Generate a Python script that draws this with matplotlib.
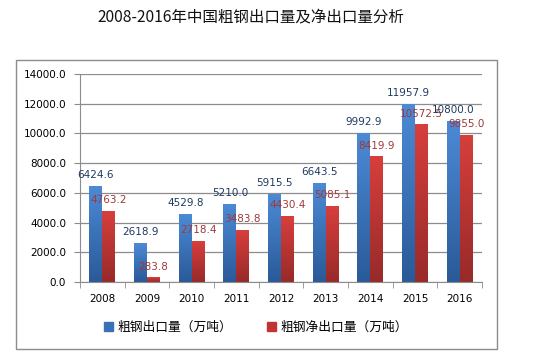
import matplotlib
matplotlib.use('Agg')
import matplotlib.pyplot as plt
import numpy as np
from matplotlib.colors import LinearSegmentedColormap
from matplotlib.patches import Rectangle

plt.rcParams['font.family'] = ['DejaVu Sans', 'Noto Sans CJK SC']

# data
years = ['2008', '2009', '2010', '2011', '2012', '2013', '2014', '2015', '2016']
export = [6424.6, 2618.9, 4529.8, 5210.0, 5915.5, 6643.5, 9992.9, 11957.9, 10800.0]
net_export = [4763.2, 283.8, 2718.4, 3483.8, 4430.4, 5085.1, 8419.9, 10572.5, 9855.0]
yticks = [0, 2000, 4000, 6000, 8000, 10000, 12000, 14000]
title = '2008-2016年中国粗钢出口量及净出口量分析'
names = ['粗钢出口量（万吨）', '粗钢净出口量（万吨）']

blue_top, blue_bot = '#4c8ad6', '#2a5a98'
red_top, red_bot = '#d63f3c', '#982a2a'

fig = plt.figure(figsize=(5.33, 3.61), dpi=100)
fig.patch.set_facecolor('white')

# outer chart frame
fig.add_artist(Rectangle((16 / 533, 1 - 349 / 361), (497 - 16) / 533, (349 - 60) / 361,
                         transform=fig.transFigure, fill=False, edgecolor='#8c8c8c', lw=1))

ax = fig.add_axes([80 / 533, 1 - 282 / 361, (482 - 80) / 533, (282 - 74) / 361])

x = np.arange(len(years))
w = 0.29
b1 = ax.bar(x - w / 2, export, w, color='none', label=names[0])
b2 = ax.bar(x + w / 2, net_export, w, color='none', label=names[1])

# vertical gradient fill inside each bar
grad = np.linspace(0, 1, 100).reshape(-1, 1)
cm_blue = LinearSegmentedColormap.from_list('b', [blue_bot, blue_top])
cm_red = LinearSegmentedColormap.from_list('r', [red_bot, red_top])
for bars, cm in [(b1, cm_blue), (b2, cm_red)]:
    for p in bars:
        x0, y0 = p.get_x(), p.get_y()
        ax.imshow(grad, cmap=cm, origin='lower', aspect='auto', zorder=2,
                  extent=[x0, x0 + p.get_width(), y0, y0 + p.get_height()])

for i in range(len(years)):
    ax.text(x[i] - w / 2, export[i] + 420, f'{export[i]:.1f}', ha='center', va='bottom',
            fontsize=7.5, color='#1f3a60', zorder=4)
    ax.text(x[i] + w / 2, net_export[i] + 420, f'{net_export[i]:.1f}', ha='center', va='bottom',
            fontsize=7.5, color='#a0393a', zorder=4)

ax.set_xlim(-0.5, len(years) - 0.5)
ax.set_ylim(0, 14000)
ax.set_yticks(yticks)
ax.set_yticklabels([f'{v:.1f}' for v in yticks], fontsize=7.5)
ax.set_xticks(x)
ax.set_xticklabels(years, fontsize=7.5)
ax.set_xticks(np.arange(-0.5, len(years)), minor=True)
ax.tick_params(axis='x', which='major', length=0, pad=9)
ax.tick_params(axis='x', which='minor', length=4, color='#8c8c8c')
ax.tick_params(axis='y', length=4, color='#8c8c8c', pad=6)
ax.yaxis.grid(True, color='#8c8c8c', lw=0.9)
ax.set_axisbelow(True)
for s in ['top', 'right']:
    ax.spines[s].set_visible(False)
for s in ['left', 'bottom']:
    ax.spines[s].set_color('#8c8c8c')

handles = [Rectangle((0, 0), 1, 1, color='#3a70b8'), Rectangle((0, 0), 1, 1, color='#c03434')]
fig.legend(handles, names, loc='center', bbox_to_anchor=(256 / 533, 1 - 327 / 361), ncol=2,
           frameon=False, handlelength=0.7, handleheight=0.7, handletextpad=0.4,
           columnspacing=2.7, prop={'family': ['Noto Sans CJK SC'], 'size': 9.2})

fig.text(251 / 533, 1 - 17 / 361, title, ha='center', va='center', fontsize=11.2,
         family=['Noto Sans CJK SC', 'DejaVu Sans'], color='#111111')

fig.savefig('out.png', dpi=100)
